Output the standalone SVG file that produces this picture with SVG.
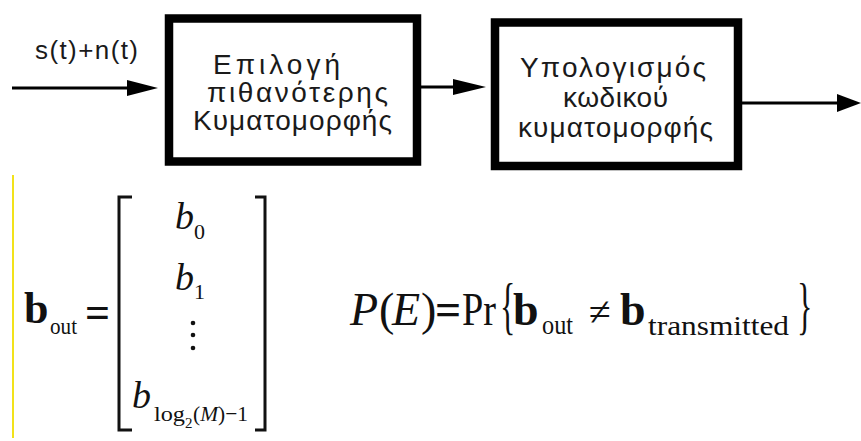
<svg xmlns="http://www.w3.org/2000/svg" width="861" height="441" viewBox="0 0 861 441">
<style>
.box{fill:#fff;stroke:#000;stroke-width:8.5}
.lbl{font-family:"Liberation Sans",Arial,sans-serif;font-size:28px;fill:#1a1a1a}
.conn{stroke:#000;stroke-width:3;fill:none}
.head{fill:#000}
.m{font-family:"Liberation Serif","Times New Roman",serif;fill:#111}
.it{font-style:italic}
.bd{font-weight:bold}
</style>
<rect width="861" height="441" fill="#fff"/>
<g id="connectors">
  <line class="conn" x1="12" y1="88" x2="130" y2="88"/>
  <polygon class="head" points="127,80 158,88 127,96"/>
  <line class="conn" x1="421" y1="87" x2="456" y2="87"/>
  <polygon class="head" points="453,79 486,87 453,95"/>
  <line class="conn" x1="728" y1="103" x2="840" y2="103"/>
  <polygon class="head" points="837,94 861,103 837,112"/>
</g>
<g id="input-label">
  <text class="lbl" x="35" y="59" textLength="103" lengthAdjust="spacing" style="font-size:26px">s(t)+n(t)</text>
</g>
<g id="node-select">
  <rect class="box" x="169" y="18.5" width="248" height="143"/>
  <text class="lbl" x="213" y="74" textLength="127" lengthAdjust="spacing">Επιλογή</text>
  <text class="lbl" x="207" y="102" textLength="181" lengthAdjust="spacing">πιθανότερης</text>
  <text class="lbl" x="193" y="130" textLength="199" lengthAdjust="spacing">Κυματομορφής</text>
</g>
<g id="node-compute">
  <rect class="box" x="495" y="22.5" width="243" height="143.5"/>
  <text class="lbl" x="520" y="77" textLength="186" lengthAdjust="spacing">Υπολογισμός</text>
  <text class="lbl" x="563" y="107" textLength="105" lengthAdjust="spacing">κωδικού</text>
  <text class="lbl" x="518" y="137" textLength="195" lengthAdjust="spacing">κυματομορφής</text>
</g>
<line x1="13" y1="175" x2="13" y2="438" stroke="#f2e21a" stroke-width="2"/>
<g id="eq-bout">
  <text class="m bd" x="24" y="323" font-size="44">b</text>
  <text class="m" x="50" y="334" font-size="24" textLength="27" lengthAdjust="spacingAndGlyphs">out</text>
  <text class="m" x="85" y="327" font-size="44" font-weight="bold">=</text>
  <path d="M132,197 H119 V430 H132" fill="none" stroke="#111" stroke-width="3"/>
  <path d="M255,197 H265 V430 H255" fill="none" stroke="#111" stroke-width="3"/>
  <text class="m it" x="175" y="229" font-size="38">b</text>
  <text class="m" x="194" y="239" font-size="22">0</text>
  <text class="m it" x="175" y="290" font-size="38">b</text>
  <text class="m" x="194" y="299" font-size="22">1</text>
  <circle cx="193" cy="323" r="2.3" fill="#111"/>
  <circle cx="193" cy="335" r="2.3" fill="#111"/>
  <circle cx="193" cy="348" r="2.3" fill="#111"/>
  <text class="m it" x="132" y="408" font-size="38">b</text>
  <text class="m" x="154" y="421" font-size="22" textLength="31" lengthAdjust="spacingAndGlyphs">log</text>
  <text class="m" x="185" y="428" font-size="15">2</text>
  <text class="m" x="193" y="421" font-size="22" textLength="55" lengthAdjust="spacingAndGlyphs">(<tspan class="it">M</tspan>)−1</text>
</g>
<g id="eq-pe">
  <text class="m it" x="350" y="325" font-size="46">P</text>
  <text class="m" x="379" y="325" font-size="46">(</text>
  <text class="m it" x="392" y="325" font-size="46">E</text>
  <text class="m" x="421" y="325" font-size="46">)</text>
  <text class="m" x="435" y="325" font-size="46" font-weight="bold">=</text>
  <text class="m" x="462" y="325" font-size="46" textLength="34" lengthAdjust="spacingAndGlyphs">Pr</text>
  <text class="m" transform="translate(500,327) scale(0.5,1)" font-size="64">{</text>
  <text class="m bd" x="513" y="325" font-size="46">b</text>
  <text class="m" x="542" y="334" font-size="28" textLength="31" lengthAdjust="spacingAndGlyphs">out</text>
  <text class="m" x="589" y="325" font-size="40">≠</text>
  <text class="m bd" x="620" y="325" font-size="46">b</text>
  <text class="m" x="648" y="335" font-size="28" textLength="141" lengthAdjust="spacingAndGlyphs">transmitted</text>
  <text class="m" transform="translate(797,327) scale(0.5,1)" font-size="64">}</text>
</g>
</svg>
